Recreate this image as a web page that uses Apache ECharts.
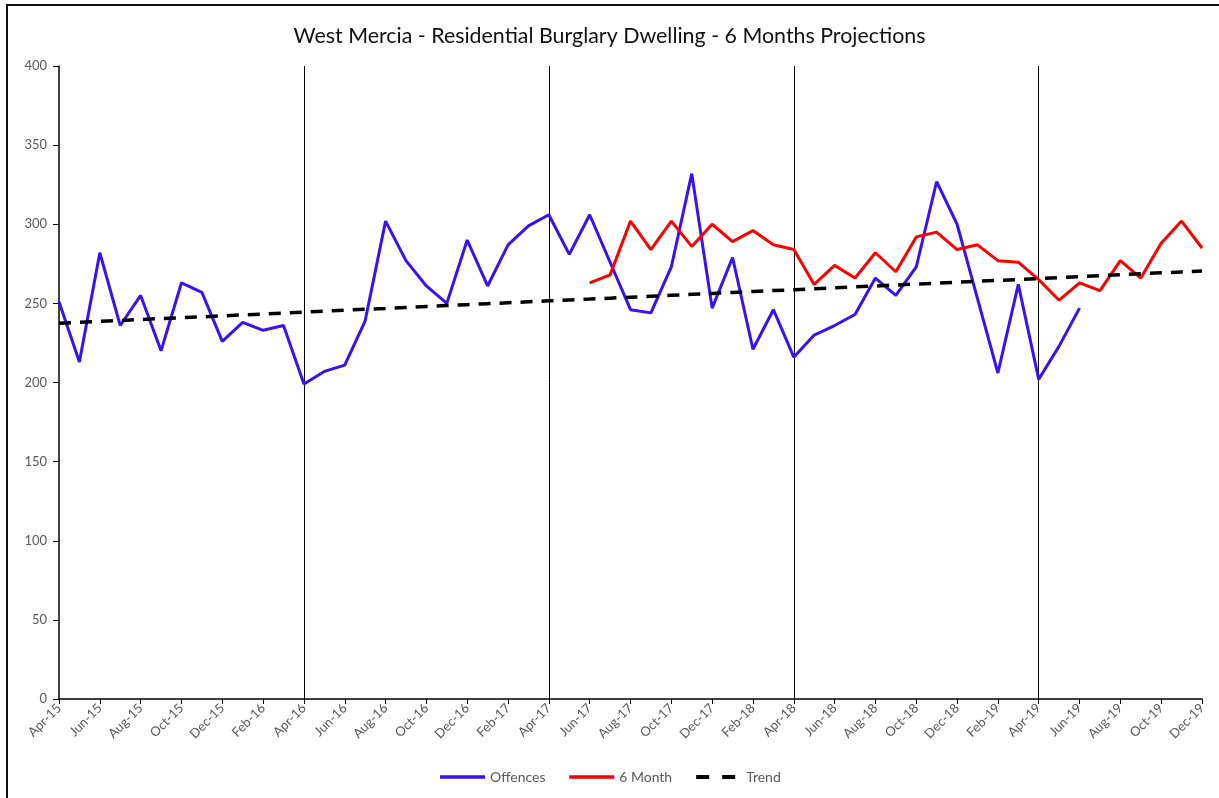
<!DOCTYPE html>
<html lang="en" style="height: 100%">

<head>
  <meta charset="UTF-8">
  <title>West Mercia - Residential Burglary Dwelling</title>
  <script src="https://cdn.jsdelivr.net/npm/echarts@6/dist/echarts.min.js"></script>
</head>

<body style="height: 100%; margin: 0; background: #fff">
  <div id="container" style="width: 1219px; height: 798px"></div>

  <script>
    // month labels, Apr-15 .. Dec-19
    var months = [
      'Apr-15', 'May-15', 'Jun-15', 'Jul-15', 'Aug-15', 'Sep-15', 'Oct-15', 'Nov-15', 'Dec-15',
      'Jan-16', 'Feb-16', 'Mar-16', 'Apr-16', 'May-16', 'Jun-16', 'Jul-16', 'Aug-16', 'Sep-16', 'Oct-16', 'Nov-16', 'Dec-16',
      'Jan-17', 'Feb-17', 'Mar-17', 'Apr-17', 'May-17', 'Jun-17', 'Jul-17', 'Aug-17', 'Sep-17', 'Oct-17', 'Nov-17', 'Dec-17',
      'Jan-18', 'Feb-18', 'Mar-18', 'Apr-18', 'May-18', 'Jun-18', 'Jul-18', 'Aug-18', 'Sep-18', 'Oct-18', 'Nov-18', 'Dec-18',
      'Jan-19', 'Feb-19', 'Mar-19', 'Apr-19', 'May-19', 'Jun-19', 'Jul-19', 'Aug-19', 'Sep-19', 'Oct-19', 'Nov-19', 'Dec-19'
    ];

    // recorded offences, Apr-15 .. Jun-19
    var offences = [
      251, 213, 282, 236, 255, 220, 263, 257, 226, 238, 233, 236,
      199, 207, 211, 239, 302, 277, 261, 250, 290, 261, 287, 299,
      306, 281, 306, 276, 246, 244, 273, 332, 247, 279, 221, 246,
      216, 230, 236, 243, 266, 255, 273, 327, 300, 253, 206, 262,
      202, 223, 247
    ];

    // 6 month projection, starts Jun-17
    var sixMonthStart = 'Jun-17';
    var sixMonth = [
      263, 268, 302, 284, 302, 286, 300, 289, 296, 287,
      284, 262, 274, 266, 282, 270, 292, 295, 284, 287,
      277, 276, 265, 252, 263, 258, 277, 266, 288, 302, 285
    ];

    // trend line, Apr-15 .. Dec-19
    var trend = [
      237.4, 238.0, 238.6, 239.2, 239.8, 240.4, 240.9, 241.5, 242.1, 242.7,
      243.3, 243.9, 244.5, 245.1, 245.7, 246.3, 246.8, 247.4, 248.0, 248.6,
      249.2, 249.8, 250.4, 251.0, 251.6, 252.2, 252.7, 253.3, 253.9, 254.5,
      255.1, 255.7, 256.3, 256.9, 257.5, 258.1, 258.6, 259.2, 259.8, 260.4,
      261.0, 261.6, 262.2, 262.8, 263.4, 264.0, 264.5, 265.1, 265.7, 266.3,
      266.9, 267.5, 268.1, 268.7, 269.3, 269.9, 270.4
    ];

    var yTicks = [0, 50, 100, 150, 200, 250, 300, 350, 400];

    // pad series to full month axis
    var offData = months.map(function (m, i) {
      return i < offences.length ? offences[i] : null;
    });
    var start = months.indexOf(sixMonthStart);
    var sixData = months.map(function (m, i) {
      return i >= start ? sixMonth[i - start] : null;
    });

    var font = 'Lato, "Liberation Sans", sans-serif';
    var chart = echarts.init(document.getElementById('container'));

    var option = {
      animation: false,
      backgroundColor: '#fff',
      textStyle: { fontFamily: font },
      graphic: [{
        type: 'rect',
        shape: { x: 7, y: 5, width: 1240, height: 820 },
        style: { fill: 'none', stroke: '#111', lineWidth: 2 },
        silent: true
      }],
      title: {
        text: 'West Mercia - Residential Burglary Dwelling - 6 Months Projections',
        left: 'center',
        top: 21,
        textStyle: { fontFamily: font, fontSize: 21.4, fontWeight: 'normal', color: '#111' }
      },
      legend: {
        bottom: 9,
        left: 'center',
        itemWidth: 45,
        itemHeight: 4,
        itemGap: 22,
        itemStyle: { opacity: 0 },
        lineStyle: { width: 3.5 },
        textStyle: { fontFamily: font, fontSize: 14, color: '#595959' },
        data: [
          { name: 'Offences' },
          { name: '6 Month' },
          { name: 'Trend', lineStyle: { width: 4, type: [13, 13] } }
        ]
      },
      grid: { left: 59, right: 17, top: 66, bottom: 99 },
      xAxis: {
        type: 'category',
        data: months,
        boundaryGap: false,
        axisLine: { lineStyle: { color: '#000', width: 1.5 } },
        axisTick: { interval: 1, length: 5, lineStyle: { color: '#000' } },
        axisLabel: {
          interval: 1,
          rotate: 45,
          margin: 7,
          fontFamily: font,
          fontSize: 13,
          color: '#595959'
        },
        splitLine: {
          show: true,
          interval: function (index) { return index > 0 && index % 12 === 0; },
          lineStyle: { color: '#000', width: 1 }
        }
      },
      yAxis: {
        type: 'value',
        min: yTicks[0],
        max: yTicks[yTicks.length - 1],
        interval: 50,
        axisLine: { show: true, lineStyle: { color: '#000', width: 1.5 } },
        axisTick: { show: true, length: 6, lineStyle: { color: '#000' } },
        axisLabel: { margin: 12, fontFamily: font, fontSize: 13, color: '#595959' },
        splitLine: { show: false }
      },
      series: [
        {
          name: 'Offences',
          type: 'line',
          data: offData,
          symbol: 'none',
          color: '#3A10F5',
          lineStyle: { width: 3, color: '#3A10F5' }
        },
        {
          name: '6 Month',
          type: 'line',
          data: sixData,
          symbol: 'none',
          color: '#FF0000',
          lineStyle: { width: 3, color: '#FF0000' }
        },
        {
          name: 'Trend',
          type: 'line',
          data: trend,
          symbol: 'none',
          color: '#000',
          lineStyle: { width: 3.5, color: '#000', type: [12, 9] }
        }
      ]
    };
    chart.setOption(option);
  </script>
</body>

</html>
